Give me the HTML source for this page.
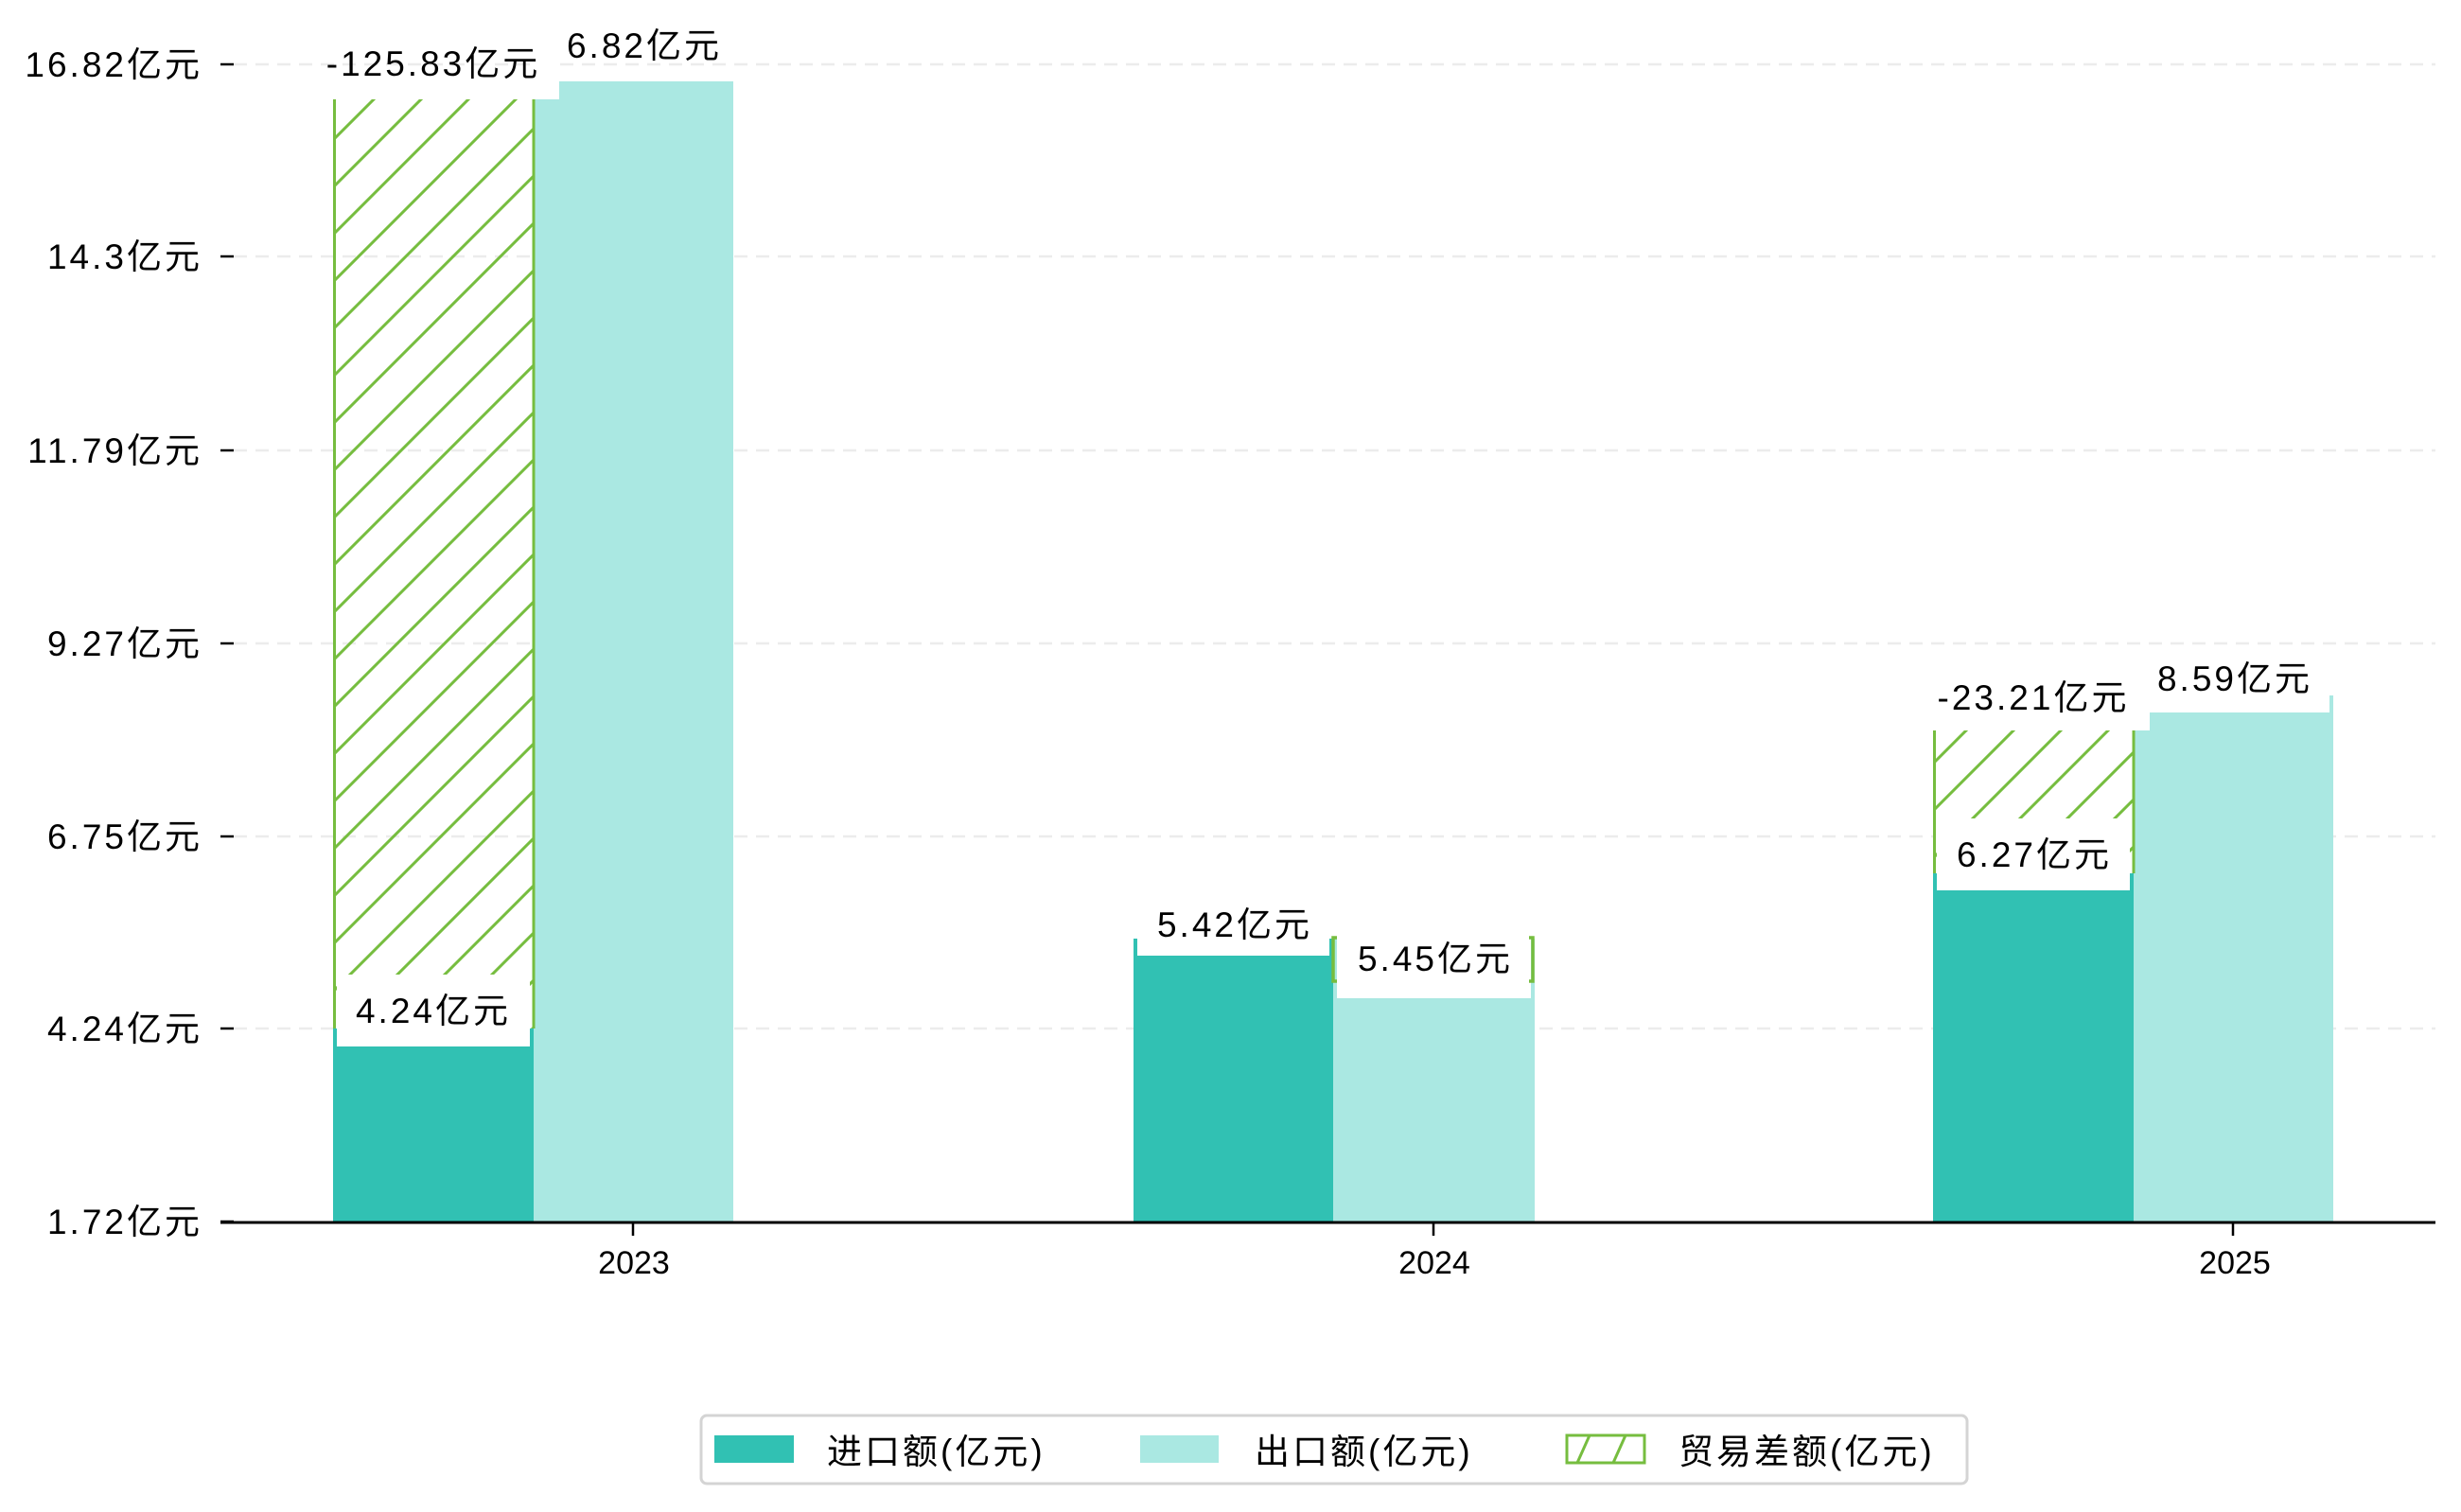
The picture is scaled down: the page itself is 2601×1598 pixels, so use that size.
<!DOCTYPE html>
<html><head><meta charset="utf-8"><style>
html,body{margin:0;padding:0;background:#fff;}
svg{display:block;}
text{font-family:"Liberation Sans","WenQuanYi Zen Hei","Noto Sans CJK SC",sans-serif;fill:#000;}
</style></head><body>
<svg width="2601" height="1598" viewBox="0 0 2601 1598" xmlns="http://www.w3.org/2000/svg">
<defs>
<pattern id="h" patternUnits="userSpaceOnUse" width="50" height="50">
<path d="M-5,55 L55,-5 M-30,30 L30,-30 M20,80 L80,20" stroke="#76bd3f" stroke-width="3"/>
</pattern>
</defs>
<rect width="2601" height="1598" fill="#fff"/>
<g stroke="#ececec" stroke-width="2.5" stroke-dasharray="14,9">
<line x1="247" y1="68" x2="2574" y2="68"/>
<line x1="247" y1="271" x2="2574" y2="271"/>
<line x1="247" y1="476" x2="2574" y2="476"/>
<line x1="247" y1="680" x2="2574" y2="680"/>
<line x1="247" y1="884" x2="2574" y2="884"/>
<line x1="247" y1="1087" x2="2574" y2="1087"/>
</g>
<g stroke="#000" stroke-width="2.5">
<line x1="233" y1="68" x2="247" y2="68"/><line x1="233" y1="271" x2="247" y2="271"/>
<line x1="233" y1="476" x2="247" y2="476"/><line x1="233" y1="680" x2="247" y2="680"/>
<line x1="233" y1="884" x2="247" y2="884"/><line x1="233" y1="1087" x2="247" y2="1087"/>
<line x1="233" y1="1291" x2="247" y2="1291"/>
</g>
<g font-size="37" text-anchor="end" letter-spacing="3">
<text x="214" y="81">16.82亿元</text>
<text x="214" y="284">14.3亿元</text>
<text x="214" y="489">11.79亿元</text>
<text x="214" y="693">9.27亿元</text>
<text x="214" y="897">6.75亿元</text>
<text x="214" y="1100">4.24亿元</text>
<text x="214" y="1304">1.72亿元</text>
</g>
<rect x="352" y="1087" width="212" height="204" fill="#31c1b3"/>
<rect x="564" y="86" width="211" height="1205" fill="#aae8e2"/>
<rect x="352" y="105" width="212" height="982" fill="url(#h)"/>
<line x1="353.5" y1="105" x2="353.5" y2="1087" stroke="#76bd3f" stroke-width="3"/>
<line x1="564" y1="105" x2="564" y2="1087" stroke="#76bd3f" stroke-width="3"/>
<rect x="564" y="60" width="27" height="45" fill="#fff"/>
<rect x="356" y="1030" width="204" height="76" fill="#fff"/>
<rect x="1198" y="992" width="211" height="299" fill="#31c1b3"/>
<rect x="1409" y="992" width="213" height="299" fill="#aae8e2"/>
<rect x="1202" y="950" width="203" height="60" fill="#fff"/>
<rect x="1413" y="990" width="205" height="65" fill="#fff"/>
<path d="M1413,991 h-4 v46 h4 M1616,991 h4 v46 h-4" fill="none" stroke="#76bd3f" stroke-width="3.5"/>
<rect x="2043" y="923" width="212" height="368" fill="#31c1b3"/>
<rect x="2255" y="735" width="211" height="556" fill="#aae8e2"/>
<rect x="2043" y="772" width="212" height="151" fill="#fff"/>
<rect x="2043" y="772" width="212" height="151" fill="url(#h)"/>
<line x1="2044.5" y1="772" x2="2044.5" y2="923" stroke="#76bd3f" stroke-width="3"/>
<line x1="2255" y1="772" x2="2255" y2="923" stroke="#76bd3f" stroke-width="3"/>
<rect x="2030" y="700" width="242" height="72" fill="#fff"/>
<rect x="2272" y="700" width="190" height="53" fill="#fff"/>
<rect x="2047" y="865" width="204" height="76" fill="#fff"/>
<g font-size="37" text-anchor="middle" letter-spacing="3">
<text x="458" y="80">-125.83亿元</text>
<text x="681" y="61">6.82亿元</text>
<text x="458" y="1081">4.24亿元</text>
<text x="1305" y="990">5.42亿元</text>
<text x="1517" y="1026">5.45亿元</text>
<text x="2149" y="750">-23.21亿元</text>
<text x="2362" y="730">8.59亿元</text>
<text x="2150" y="916">6.27亿元</text>
</g>
<line x1="233" y1="1292" x2="2574" y2="1292" stroke="#000" stroke-width="3"/>
<g stroke="#000" stroke-width="2.5">
<line x1="669" y1="1292" x2="669" y2="1306"/>
<line x1="1515" y1="1292" x2="1515" y2="1306"/>
<line x1="2360" y1="1292" x2="2360" y2="1306"/>
</g>
<g font-size="34" text-anchor="middle">
<text x="670" y="1346">2023</text>
<text x="1516" y="1346">2024</text>
<text x="2362" y="1346">2025</text>
</g>
<rect x="741" y="1496" width="1338" height="72" rx="6" fill="#fff" stroke="#d4d4d4" stroke-width="3"/>
<rect x="755" y="1517" width="84" height="29" fill="#31c1b3"/>
<rect x="1205" y="1517" width="83" height="29" fill="#aae8e2"/>
<rect x="1656" y="1517" width="82" height="29" fill="#fff" stroke="#76bd3f" stroke-width="3"/>
<path d="M1667,1546 L1680,1517 M1705,1546 L1718,1517" stroke="#76bd3f" stroke-width="3"/>
<g font-size="37" letter-spacing="3">
<text x="874" y="1547">进口额(亿元)</text>
<text x="1326" y="1547">出口额(亿元)</text>
<text x="1774" y="1547">贸易差额(亿元)</text>
</g>
</svg>
</body></html>
